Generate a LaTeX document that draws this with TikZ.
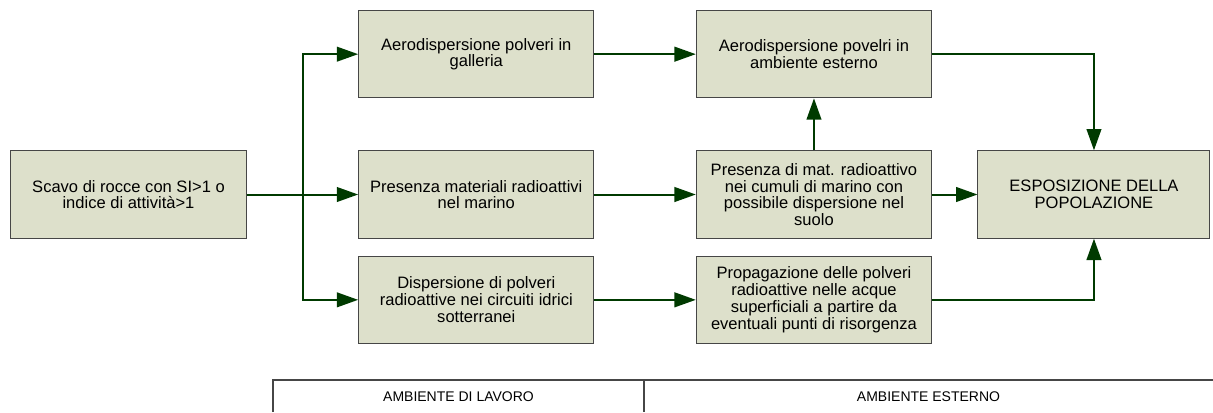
\documentclass[tikz,border=0pt]{standalone}
\usepackage{fontspec}
\setmainfont{Liberation Sans}
\usetikzlibrary{positioning,arrows.meta}
\definecolor{boxfill}{RGB}{221,224,203}
\definecolor{boxline}{RGB}{70,70,70}
\definecolor{flowgreen}{RGB}{0,58,0}

\begin{document}
\begin{tikzpicture}[
  x=0.75pt, y=-0.75pt,
  box/.style={draw=boxline, line width=0.75pt, fill=boxfill, minimum width=176.5pt, minimum height=65.5pt,
    font=\fontsize{12.4}{12.6}\selectfont, align=center, inner sep=2pt},
  arrow/.style={-{Triangle[length=16pt, width=11pt]}, line width=1.5pt, draw=flowgreen},
  frame/.style={draw=boxline, line width=1.5pt},
  label/.style={font=\fontsize{10.5}{12}\selectfont}
]
\useasboundingbox (0,0) rectangle (1213,412);
% first column
\node[box, minimum height=66.25pt] (scavo) at (128.5,194.5) {Scavo di rocce con SI>1 o\\indice di attività>1};
% work environment
\node[box, right=83.6pt of scavo] (pres2) {Presenza materiali radioattivi\\nel marino};
\node[box, above=39pt of pres2] (aero2) {Aerodispersione polveri in\\galleria};
\node[box, below=12.75pt of pres2] (disp2) {Dispersione di polveri\\radioattive nei circuiti idrici\\sotterranei};
% outside environment
\node[box, right=76pt of pres2] (pres3) {Presenza di mat. radioattivo\\nei cumuli di marino con\\possibile dispersione nel\\suolo};
\node[box, right=76pt of aero2] (aero3) {Aerodispersione povelri in\\ambiente esterno};
\node[box, right=76pt of disp2] (prop3) {Propagazione delle polveri\\radioattive nelle acque\\superficiali a partire da\\eventuali punti di risorgenza};
\node[box, right=34pt of pres3, minimum width=174pt] (expo) {ESPOSIZIONE DELLA\\POPOLAZIONE};

\coordinate (split) at (303,194.5);
\draw[arrow] (scavo) -- (pres2);
\draw[arrow] (split) |- (aero2);
\draw[arrow] (split) |- (disp2);
\draw[arrow] (aero2) -- (aero3);
\draw[arrow] (pres2) -- (pres3);
\draw[arrow] (disp2) -- (prop3);
\draw[arrow] (pres3) -- (aero3);
\draw[arrow] (pres3) -- (expo);
\draw[arrow] (aero3) -| (expo.north);
\draw[arrow] (prop3) -| (expo.south);

% legend table
\draw[frame] (273,412) -- (273,380) -- (1213,380);
\draw[frame] (644,380) -- (644,412);
\node[label] (lavoro) at (458.5,397) {AMBIENTE DI LAVORO};
\node[label] (esterno) at (928.5,397) {AMBIENTE ESTERNO};
\end{tikzpicture}
\end{document}
